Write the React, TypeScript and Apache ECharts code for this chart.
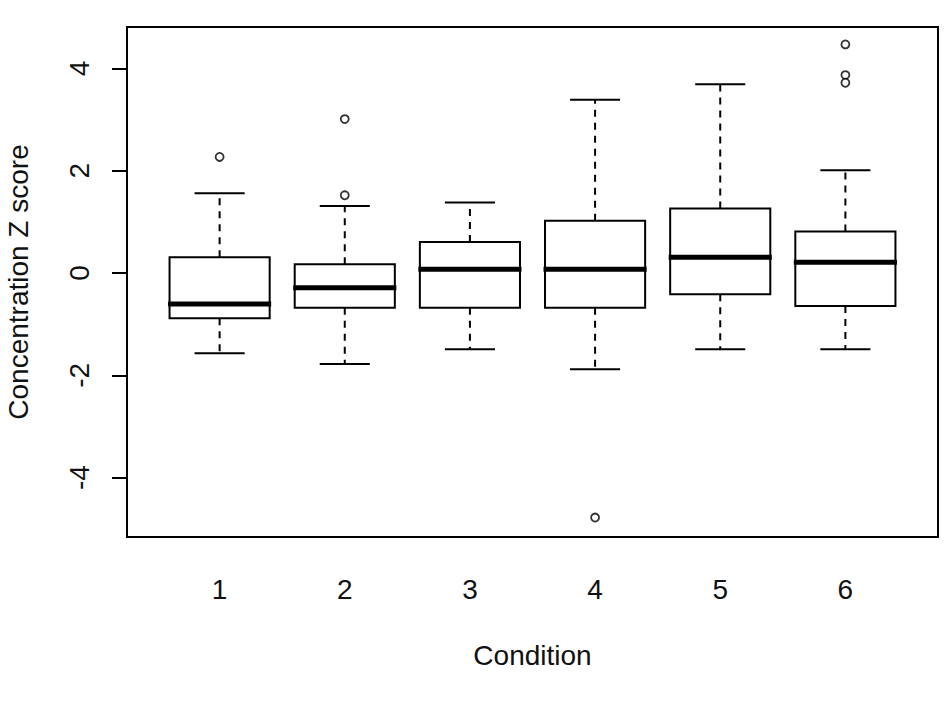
import React, { useEffect, useRef } from "react";
import * as echarts from "echarts";

const conditions = [1, 2, 3, 4, 5, 6];
// [lower whisker, Q1, median, Q3, upper whisker]
const lowerWhisker = [-1.57, -1.78, -1.49, -1.88, -1.49, -1.49];
const q1 = [-0.885, -0.68, -0.68, -0.68, -0.416, -0.645];
const median = [-0.605, -0.287, 0.072, 0.072, 0.31, 0.21];
const q3 = [0.31, 0.17, 0.605, 1.02, 1.26, 0.81];
const upperWhisker = [1.56, 1.31, 1.38, 3.39, 3.69, 2.01];
const outlierCondition = [1, 2, 2, 4, 6, 6, 6];
const outlierValue = [2.27, 3.01, 1.52, -4.78, 4.47, 3.87, 3.72];
const xTicks = [1, 2, 3, 4, 5, 6];
const yTicks = [-4, -2, 0, 2, 4];

const FONT = "'Liberation Sans', Arial, sans-serif";

export default function App() {
  const ref = useRef<HTMLDivElement>(null);
  useEffect(() => {
    if (!ref.current) return;
    const chart = echarts.init(ref.current, null, { renderer: "svg" });
    const boxData = conditions.map((c, i) => [
      c,
      lowerWhisker[i],
      q1[i],
      median[i],
      q3[i],
      upperWhisker[i],
    ]);
    const outliers = outlierCondition.map((c, i) => [c, outlierValue[i]]);
    chart.setOption({
      animation: false,
      backgroundColor: "#fff",
      grid: {
        left: 127,
        right: 7,
        top: 27,
        bottom: 172,
        containLabel: false,
        outerBoundsMode: "none",
        show: true,
        borderColor: "#000",
        borderWidth: 2,
        backgroundColor: "transparent",
      },
      xAxis: {
        type: "value",
        min: 0.26,
        max: 6.74,
        name: "Condition",
        nameLocation: "middle",
        nameGap: 104,
        nameTextStyle: { fontFamily: FONT, fontSize: 28, color: "#111" },
        axisLine: { show: false },
        splitLine: { show: false },
        axisTick: {
          show: true,
          length: 15,
          lineStyle: { color: "#000", width: 2 },
          customValues: xTicks,
        },
        axisLabel: {
          margin: 38,
          fontFamily: FONT,
          fontSize: 28,
          color: "#111",
          customValues: xTicks,
        },
      },
      yAxis: {
        type: "value",
        min: -5.16,
        max: 4.81,
        name: "Concentration Z score",
        nameLocation: "middle",
        nameRotate: 90,
        nameGap: 95,
        nameTextStyle: { fontFamily: FONT, fontSize: 28, color: "#111" },
        axisLine: { show: false },
        splitLine: { show: false },
        axisTick: {
          show: true,
          length: 15,
          lineStyle: { color: "#000", width: 2 },
          customValues: yTicks,
        },
        axisLabel: {
          rotate: 90,
          margin: 34,
          fontFamily: FONT,
          fontSize: 28,
          color: "#111",
          customValues: yTicks,
        },
      },
      series: [
        {
          type: "custom",
          data: boxData,
          encode: { x: 0, y: [1, 2, 3, 4, 5] },
          renderItem: (params: any, api: any) => {
            const x = api.value(0);
            const lo = api.coord([x, api.value(1)]);
            const b1 = api.coord([x, api.value(2)]);
            const md = api.coord([x, api.value(3)]);
            const b3 = api.coord([x, api.value(4)]);
            const hi = api.coord([x, api.value(5)]);
            const bw = api.size([0.8, 0])[0];
            const cw = api.size([0.4, 0])[0];
            const cx = lo[0];
            const stroke = { stroke: "#000", lineWidth: 2, fill: "none" };
            const dashed = { stroke: "#000", lineWidth: 2, lineDash: [7, 6] };
            return {
              type: "group",
              children: [
                {
                  type: "line",
                  shape: { x1: cx, y1: b3[1], x2: cx, y2: hi[1] },
                  style: dashed,
                },
                {
                  type: "line",
                  shape: { x1: cx, y1: b1[1], x2: cx, y2: lo[1] },
                  style: dashed,
                },
                {
                  type: "line",
                  shape: { x1: cx - cw / 2, y1: hi[1], x2: cx + cw / 2, y2: hi[1] },
                  style: stroke,
                },
                {
                  type: "line",
                  shape: { x1: cx - cw / 2, y1: lo[1], x2: cx + cw / 2, y2: lo[1] },
                  style: stroke,
                },
                {
                  type: "rect",
                  shape: { x: cx - bw / 2, y: b3[1], width: bw, height: b1[1] - b3[1] },
                  style: { stroke: "#000", lineWidth: 2, fill: "#fff" },
                },
                {
                  type: "line",
                  shape: { x1: cx - bw / 2 - 1.5, y1: md[1], x2: cx + bw / 2 + 1.5, y2: md[1] },
                  style: { stroke: "#000", lineWidth: 5 },
                },
              ],
            };
          },
        },
        {
          type: "scatter",
          data: outliers,
          symbol: "circle",
          symbolSize: 8,
          itemStyle: { color: "#fff", borderColor: "#000", borderWidth: 1.8 },
        },
      ],
    });
    return () => chart.dispose();
  }, []);
  return (
    <div
      ref={ref}
      style={{ position: "absolute", left: 0, top: 0, width: 945, height: 709 }}
    />
  );
}
